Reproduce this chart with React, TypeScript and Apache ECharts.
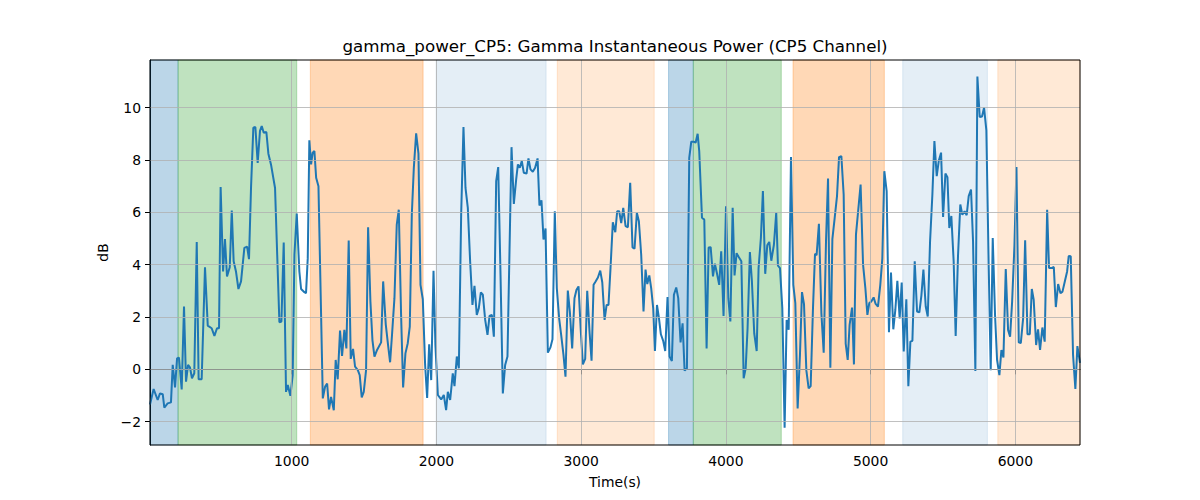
import React, { useEffect, useRef } from "react";
import * as echarts from "echarts";

const chartTitle = "gamma_power_CP5: Gamma Instantaneous Power (CP5 Channel)";
const xLabel = "Time(s)";
const yLabel = "dB";

const xTicks = [1000, 2000, 3000, 4000, 5000, 6000];
const yTicks = [-2, 0, 2, 4, 6, 8, 10];
const xRange = [21, 6447];
const yRange = [-2.89, 11.82];

const times = [
  21, 46, 74, 90, 109, 120, 143, 166, 178, 194, 208, 221, 240, 256, 270, 284, 297, 311, 327, 344,
  357, 378, 401, 420, 447, 466, 484, 498, 509, 526, 539, 553, 572, 586, 599, 615, 632, 650, 673, 692,
  705, 719, 735, 749, 765, 781, 793, 807, 825, 839, 857, 885, 915, 929, 945, 961, 973, 991, 1007, 1019,
  1035, 1053, 1065, 1088, 1099, 1111, 1122, 1134, 1145, 1157, 1169, 1185, 1215, 1231, 1245, 1258, 1272, 1291, 1304, 1318,
  1334, 1348, 1364, 1378, 1394, 1408, 1424, 1438, 1457, 1470, 1484, 1498, 1514, 1528, 1544, 1558, 1572, 1590, 1618, 1632,
  1650, 1666, 1680, 1694, 1710, 1726, 1740, 1756, 1770, 1786, 1802, 1816, 1830, 1844, 1860, 1876, 1890, 1906, 1922, 1936,
  1950, 1964, 1980, 1993, 2010, 2033, 2051, 2067, 2079, 2095, 2113, 2125, 2141, 2155, 2171, 2187, 2201, 2217, 2233, 2249,
  2263, 2279, 2293, 2307, 2321, 2337, 2353, 2367, 2383, 2397, 2413, 2427, 2443, 2459, 2475, 2491, 2505, 2519, 2535, 2551,
  2563, 2576, 2590, 2604, 2623, 2636, 2650, 2666, 2682, 2699, 2712, 2726, 2740, 2754, 2770, 2788, 2802, 2818, 2832, 2848,
  2862, 2878, 2892, 2908, 2922, 2938, 2954, 2968, 2982, 2998, 3012, 3028, 3042, 3058, 3072, 3086, 3100, 3116, 3132, 3146,
  3162, 3176, 3189, 3203, 3219, 3236, 3249, 3263, 3277, 3291, 3307, 3323, 3339, 3355, 3369, 3385, 3399, 3415, 3431, 3445,
  3457, 3471, 3484, 3498, 3510, 3524, 3537, 3551, 3567, 3581, 3597, 3611, 3627, 3641, 3657, 3671, 3687, 3701, 3715, 3731,
  3747, 3761, 3777, 3791, 3805, 3816, 3835, 3851, 3867, 3881, 3895, 3911, 3924, 3938, 3954, 3968, 3984, 4001, 4017, 4031,
  4047, 4060, 4074, 4090, 4107, 4123, 4137, 4150, 4166, 4180, 4196, 4213, 4226, 4242, 4256, 4272, 4286, 4300, 4314, 4332,
  4348, 4360, 4374, 4390, 4406, 4420, 4434, 4450, 4466, 4480, 4496, 4512, 4526, 4540, 4556, 4572, 4586, 4602, 4616, 4627,
  4643, 4660, 4676, 4692, 4706, 4722, 4736, 4752, 4768, 4782, 4798, 4814, 4828, 4842, 4855, 4872, 4885, 4899, 4915, 4931,
  4948, 4964, 4978, 4991, 5005, 5021, 5035, 5051, 5067, 5081, 5095, 5111, 5127, 5141, 5157, 5171, 5185, 5201, 5215, 5229,
  5247, 5261, 5275, 5289, 5305, 5321, 5337, 5351, 5365, 5381, 5395, 5411, 5427, 5441, 5457, 5471, 5487, 5501, 5517, 5531,
  5544, 5558, 5574, 5588, 5604, 5620, 5634, 5650, 5664, 5678, 5694, 5708, 5724, 5738, 5754, 5770, 5784, 5800, 5816, 5830,
  5844, 5860, 5874, 5890, 5904, 5918, 5934, 5950, 5964, 5978, 5994, 6008, 6024, 6038, 6054, 6068, 6084, 6100, 6114, 6127,
  6144, 6157, 6171, 6187, 6203, 6220, 6233, 6250, 6266, 6280, 6296, 6312, 6326, 6342, 6358, 6369, 6383, 6399, 6415, 6429,
  6447,
];

const powerDb = [
  -1.34, -0.75, -1.17, -0.92, -0.95, -1.46, -1.30, -1.26, 0.17, -0.69, 0.42, 0.45, -0.77, 2.40, -0.47, 0.17, 0.08, -0.34, -0.15, 4.87,
  -0.38, -0.38, 3.90, 1.67, 1.57, 1.28, 1.57, 1.57, 6.97, 3.74, 4.98, 3.55, 3.90, 6.07, 4.13, 3.74, 3.07, 3.36, 4.64, 4.69,
  4.21, 6.93, 9.23, 9.26, 7.89, 9.11, 9.30, 9.04, 9.07, 8.24, 7.83, 6.93, 1.80, 1.83, 4.85, -0.86, -0.60, -1.01, -0.22, 4.38,
  5.95, 3.74, 3.07, 2.95, 2.91, 4.25, 8.75, 7.83, 8.28, 8.34, 7.32, 7.00, -1.11, -0.66, -0.54, -1.53, -1.05, -1.56, 0.36, -0.38,
  1.48, 0.51, 1.51, 0.80, 4.92, 0.40, 0.78, 0.10, -0.03, -0.22, -1.07, -0.86, -0.03, 5.43, 2.59, 1.12, 0.49, 0.74, 1.03, 3.36,
  1.72, 0.93, 0.27, 1.38, 2.72, 5.53, 6.10, 2.08, -0.69, 0.61, 1.00, 1.63, 5.91, 7.70, 9.02, 8.24, 3.23, 2.68, 0.17, -1.09,
  0.96, -0.41, 3.77, 0.93, -0.98, -1.15, -0.98, -1.56, -0.86, -1.17, -0.15, -0.64, 0.49, 0.04, 5.91, 9.26, 6.93, 6.17, 4.13, 2.46,
  3.19, 2.08, 2.34, 2.94, 2.85, 1.89, 1.32, 2.04, 2.08, 1.25, 7.19, 7.73, 3.61, -0.92, 0.17, 0.49, 4.51, 8.49, 6.32, 7.25,
  7.83, 7.70, 7.96, 7.51, 7.48, 8.06, 7.64, 7.55, 7.70, 8.06, 6.26, 6.46, 4.96, 5.38, 0.64, 0.84, 1.15, 6.04, 3.10, 1.95,
  1.32, 0.55, -0.28, 3.01, 2.21, 0.80, 2.72, 3.04, 3.17, 1.44, 0.19, 0.40, 3.00, 1.44, 0.33, 3.23, 3.36, 3.51, 3.77, 3.33,
  1.89, 2.46, 2.46, 3.87, 5.62, 5.24, 6.04, 6.04, 5.59, 6.17, 5.47, 5.43, 7.13, 4.66, 4.61, 5.98, 5.66, 4.38, 2.21, 3.81,
  3.26, 3.59, 3.10, 2.34, 0.70, 2.46, 1.99, 1.34, 1.09, 0.70, 2.76, 0.49, 0.32, 2.85, 3.13, 2.72, 1.03, 1.76, -0.05, 0.04,
  8.08, 8.70, 8.70, 8.66, 9.00, 8.34, 5.79, 5.72, 0.80, 4.66, 4.67, 3.55, 4.04, 3.68, 3.23, 4.51, 2.04, 6.23, 2.72, 1.83,
  6.17, 3.59, 4.44, 4.28, 4.13, -0.34, 0.04, 1.57, 4.48, 3.36, 1.38, 0.70, 3.87, 5.02, 6.81, 3.65, 4.74, 4.87, 4.15, 4.76,
  5.98, 3.96, 3.87, 2.34, -2.23, 1.89, 1.51, 8.11, 3.23, 2.53, -1.49, 0.55, 2.95, 2.49, -0.03, -0.73, -0.64, 2.34, 4.42, 4.36,
  5.56, 2.15, 0.64, 4.89, 7.29, 0.06, 4.98, 5.79, 6.62, 8.11, 8.15, 6.68, 0.98, 0.36, 1.70, 2.36, 0.19, 5.15, 6.10, 7.06,
  4.00, 3.10, 2.08, 2.53, 2.59, 2.75, 2.50, 2.40, 3.23, 4.23, 7.57, 6.81, 1.42, 3.70, 1.53, 2.27, 3.38, 1.95, 3.32, 0.68,
  2.68, -0.64, 1.06, 1.09, 4.13, 2.21, 2.18, 2.82, 3.81, 2.40, 2.02, 4.89, 6.68, 8.72, 7.38, 7.96, 8.28, 5.82, 7.48, 7.34,
  5.40, 5.86, 4.13, 1.28, 4.32, 6.30, 5.91, 6.04, 5.89, 6.62, 6.87, 4.89, -0.06, 11.19, 9.64, 9.66, 10.00, 9.13, 4.00, -0.03,
  5.02, 2.08, 0.36, -0.22, 0.74, 0.45, 3.83, 1.51, 1.25, 2.59, 4.73, 7.73, 1.03, 1.00, 1.95, 4.93, 1.34, 1.34, 3.07, 2.66,
  0.93, 1.53, 0.74, 1.60, 1.06, 6.10, 3.87, 3.87, 3.91, 2.38, 3.26, 2.91, 2.97, 3.36, 3.74, 4.33, 4.32, 0.55, -0.75, 0.89,
  0.25,
];

const bandStarts = [21, 215, 1129, 1998, 2835, 3604, 3775, 4464, 5222, 5879];
const bandEnds = [215, 1035, 1908, 2758, 3505, 3775, 4383, 5095, 5807, 6447];
const bandKinds = ["blue", "green", "orange", "paleBlue", "paleOrange", "blue", "green", "orange", "paleBlue", "paleOrange"];

const bandColors: Record<string, string> = {
  blue: "rgba(31,119,180,0.3)",
  green: "rgba(44,160,44,0.3)",
  orange: "rgba(255,127,14,0.3)",
  paleBlue: "rgba(31,119,180,0.12)",
  paleOrange: "rgba(255,127,14,0.17)",
};

const FONT = "DejaVu Sans";
const fmtTick = (v: number) => (v < 0 ? "\u2212" + String(Math.abs(v)) : String(v));

export default function App() {
  const ref = useRef<HTMLDivElement>(null);
  useEffect(() => {
    if (!ref.current) return;
    const chart = echarts.init(ref.current, undefined, { renderer: "svg" });
    const lineData = times.map((t, i) => [t, powerDb[i]]);
    const areas = bandStarts.map((s, i) => [
      {
        xAxis: s,
        itemStyle: {
          color: bandColors[bandKinds[i]],
          borderColor: bandColors[bandKinds[i]],
          borderWidth: 1,
        },
      },
      { xAxis: bandEnds[i] },
    ]);
    const gridLines = [
      ...xTicks.map((v) => ({ xAxis: v })),
      ...yTicks.map((v) => ({ yAxis: v })),
    ];
    chart.setOption({
      animation: false,
      textStyle: { fontFamily: FONT },
      title: {
        text: chartTitle,
        left: 615,
        top: 37,
        padding: 0,
        textAlign: "center",
        textStyle: { fontFamily: FONT, fontSize: 16.7, fontWeight: "normal", color: "#000" },
      },
      grid: {
        left: 150,
        right: 120,
        top: 60,
        bottom: 55,
        show: true,
        z: 10,
        backgroundColor: "transparent",
        borderColor: "#000",
        borderWidth: 1,
      },
      xAxis: {
        type: "value",
        min: xRange[0],
        max: xRange[1],
        name: xLabel,
        nameLocation: "middle",
        nameGap: 30,
        nameTextStyle: { fontFamily: FONT, fontSize: 13.9, color: "#000" },
        axisLine: { show: true, lineStyle: { color: "#000", width: 1 } },
        axisTick: { show: true, length: 5, lineStyle: { color: "#000" }, customValues: xTicks },
        axisLabel: { fontFamily: FONT, fontSize: 13.9, color: "#000", margin: 9, customValues: xTicks, formatter: fmtTick },
        splitLine: { show: false },
      },
      yAxis: {
        type: "value",
        min: yRange[0],
        max: yRange[1],
        name: yLabel,
        nameLocation: "middle",
        nameGap: 31,
        nameRotate: 90,
        nameTextStyle: { fontFamily: FONT, fontSize: 13.9, color: "#000" },
        axisLine: { show: true, lineStyle: { color: "#000", width: 1 } },
        axisTick: { show: true, length: 5, lineStyle: { color: "#000" }, customValues: yTicks },
        axisLabel: { fontFamily: FONT, fontSize: 13.9, color: "#000", margin: 9, customValues: yTicks, formatter: fmtTick },
        splitLine: { show: false },
      },
      series: [
        {
          type: "line",
          name: "bands",
          data: [lineData[0]],
          z: 1,
          silent: true,
          showSymbol: false,
          lineStyle: { opacity: 0, width: 0 },
          markArea: { silent: true, data: areas },
        },
        {
          type: "line",
          name: "grid",
          data: [lineData[0]],
          z: 2,
          silent: true,
          showSymbol: false,
          lineStyle: { opacity: 0, width: 0 },
          markLine: {
            silent: true,
            symbol: ["none", "none"],
            label: { show: false },
            lineStyle: { color: "#b0b0b0", width: 0.8, type: "solid" },
            data: gridLines,
          },
        },
        {
          type: "line",
          name: "power",
          data: lineData,
          z: 3,
          showSymbol: false,
          lineStyle: { color: "#1f77b4", width: 2 },
          itemStyle: { color: "#1f77b4" },
        },
      ],
    });
    return () => chart.dispose();
  }, []);
  return (
    <div
      ref={ref}
      style={{ position: "absolute", left: 0, top: 0, width: 1200, height: 500 }}
    />
  );
}
